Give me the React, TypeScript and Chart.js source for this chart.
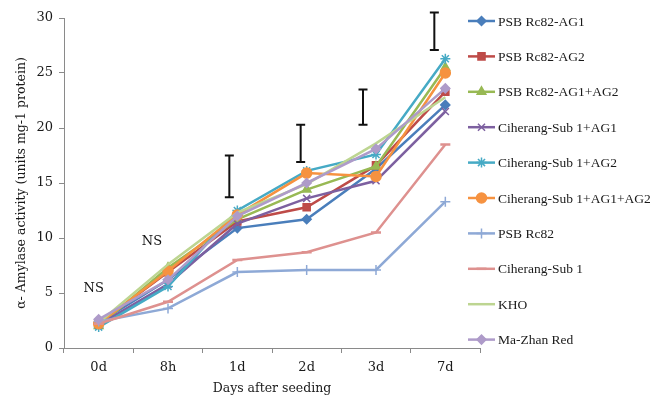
import React, { useEffect, useRef } from "react";
import { Chart, registerables } from "chart.js";
import { drawPoint } from "chart.js/helpers";

Chart.register(...registerables);

const categories = ["0d", "8h", "1d", "2d", "3d", "7d"];

const seriesNames = [
  "PSB Rc82-AG1",
  "PSB Rc82-AG2",
  "PSB Rc82-AG1+AG2",
  "Ciherang-Sub 1+AG1",
  "Ciherang-Sub 1+AG2",
  "Ciherang-Sub 1+AG1+AG2",
  "PSB Rc82",
  "Ciherang-Sub 1",
  "KHO",
  "Ma-Zhan Red",
];

const psbAg1 = [2.3, 6.2, 10.9, 11.7, 16.3, 22.1];
const psbAg2 = [2.2, 6.9, 11.5, 12.8, 16.6, 23.3];
const psbAg1Ag2 = [2.0, 7.3, 11.7, 14.4, 16.5, 25.5];
const cihAg1 = [2.1, 5.8, 11.3, 13.6, 15.2, 21.5];
const cihAg2 = [1.9, 5.6, 12.5, 16.1, 17.6, 26.3];
const cihAg1Ag2 = [2.2, 7.0, 12.1, 15.9, 15.6, 25.0];
const psbRc82 = [2.4, 3.6, 6.9, 7.1, 7.1, 13.3];
const ciherangSub1 = [2.2, 4.2, 8.0, 8.7, 10.5, 18.5];
const kho = [2.3, 7.6, 12.3, 14.9, 18.6, 22.8];
const maZhanRed = [2.6, 6.2, 12.0, 15.0, 18.1, 23.6];

const seriesValues = [psbAg1, psbAg2, psbAg1Ag2, cihAg1, cihAg2, cihAg1Ag2, psbRc82, ciherangSub1, kho, maZhanRed];

// LSD-style error bars
const errCategories = ["1d", "2d", "3d", "7d"];
const errLow = [13.7, 16.9, 20.3, 27.1];
const errHigh = [17.5, 20.3, 23.5, 30.5];

// NS annotations
const nsCategories = ["0d", "8h"];
const nsValues = [5.4, 9.7];
const nsText = "NS";

const yTicks = [0, 5, 10, 15, 20, 25, 30];

const colors = ["#4A7EBB", "#BE4B48", "#98B954", "#7D60A0", "#46AAC5", "#F69240", "#8EA9D6", "#DE918F", "#BDD591", "#AE9BC9"];
const pointStyles: any[] = ["rectRot", "rect", "triangle", "crossRot", "star", "circle", "cross", "line", false, "rectRot"];
const pointRadii = [4.5, 5, 5, 5, 5, 5, 5, 5, 0, 4.5];

const errOffsets = [-8, -6, -13, -11];
const nsOffsets = [-5, -16];

const annotationPlugin = {
  id: "annot",
  afterDatasetsDraw(chart: any) {
    const { ctx, scales } = chart;
    const x = scales.x;
    const y = scales.y;
    ctx.save();
    ctx.strokeStyle = "#111";
    ctx.lineWidth = 2;
    errCategories.forEach((c, i) => {
      const px = x.getPixelForValue(categories.indexOf(c)) + errOffsets[i];
      const y1 = y.getPixelForValue(errLow[i]);
      const y2 = y.getPixelForValue(errHigh[i]);
      ctx.beginPath();
      ctx.moveTo(px, y1);
      ctx.lineTo(px, y2);
      ctx.moveTo(px - 4.5, y1);
      ctx.lineTo(px + 4.5, y1);
      ctx.moveTo(px - 4.5, y2);
      ctx.lineTo(px + 4.5, y2);
      ctx.stroke();
    });
    ctx.fillStyle = "#111";
    ctx.font = "13px 'DejaVu Serif'";
    ctx.textAlign = "center";
    ctx.textBaseline = "middle";
    nsCategories.forEach((c, i) => {
      const px = x.getPixelForValue(categories.indexOf(c)) + nsOffsets[i];
      ctx.fillText(nsText, px, y.getPixelForValue(nsValues[i]));
    });
    ctx.restore();
  },
  afterDraw(chart: any) {
    const { ctx } = chart;
    ctx.save();
    const top = 21;
    const step = 35.4;
    chart.data.datasets.forEach((ds: any, i: number) => {
      const cy = top + i * step;
      ctx.strokeStyle = ds.borderColor;
      ctx.lineWidth = 2.5;
      ctx.beginPath();
      ctx.moveTo(468, cy);
      ctx.lineTo(495, cy);
      ctx.stroke();
      if (ds.pointStyle) {
        ctx.fillStyle = ds.pointBackgroundColor;
        ctx.strokeStyle = ds.pointBorderColor;
        ctx.lineWidth = ds.pointStyle === "line" ? 2.5 : 1.5;
        drawPoint(ctx, { pointStyle: ds.pointStyle, radius: ds.pointRadius, rotation: 0, borderWidth: ctx.lineWidth }, 481.5, cy);
      }
      ctx.fillStyle = "#1a1a1a";
      ctx.font = "13.5px 'Liberation Serif'";
      ctx.textAlign = "left";
      ctx.textBaseline = "middle";
      ctx.fillText(ds.label, 498, cy + 1);
    });
    ctx.restore();
  },
};

export default function App() {
  const ref = useRef<HTMLCanvasElement | null>(null);
  useEffect(() => {
    if (!ref.current) return;
    const n = seriesNames.length;
    const chart = new Chart(ref.current, {
      type: "line",
      data: {
        labels: categories,
        datasets: seriesNames.map((name, i) => ({
          label: name,
          data: seriesValues[i],
          borderColor: colors[i],
          backgroundColor: colors[i],
          pointBackgroundColor: colors[i],
          pointBorderColor: colors[i],
          pointStyle: pointStyles[i],
          pointRadius: pointRadii[i],
          pointBorderWidth: pointStyles[i] === "line" ? 2.5 : 1.5,
          borderWidth: 2.5,
          tension: 0,
          fill: false,
          order: n - i,
        })),
      },
      options: {
        animation: false,
        responsive: false,
        devicePixelRatio: 1,
        layout: { padding: { left: 0, top: 18, right: 170, bottom: 0 } },
        plugins: { legend: { display: false }, tooltip: { enabled: false } },
        scales: {
          x: {
            offset: true,
            grid: { offset: true, drawOnChartArea: false, drawTicks: true, tickLength: 5, color: "#8a8a8a" },
            border: { color: "#8a8a8a", width: 1 },
            ticks: { color: "#1a1a1a", font: { family: "DejaVu Serif", size: 13 }, padding: 7 },
            title: {
              display: true,
              text: "Days after seeding",
              color: "#1a1a1a",
              font: { family: "DejaVu Serif", size: 12.5 },
              padding: { top: 0, bottom: 2.5 },
            },
            afterFit: (s: any) => {
              s.height = 51;
            },
          },
          y: {
            min: 0,
            max: 30,
            afterBuildTicks: (s: any) => {
              s.ticks = yTicks.map((v) => ({ value: v }));
            },
            grid: { drawOnChartArea: false, drawTicks: true, tickLength: 5, color: "#8a8a8a" },
            border: { color: "#8a8a8a", width: 1 },
            ticks: { color: "#1a1a1a", font: { family: "DejaVu Serif", size: 13 }, padding: 6 },
            title: {
              display: true,
              text: "α- Amylase activity (units mg-1 protein)",
              color: "#1a1a1a",
              font: { family: "DejaVu Serif", size: 12.5 },
              padding: { top: 14, bottom: 0 },
            },
            afterFit: (s: any) => {
              s.width = 64;
            },
          },
        },
      },
      plugins: [annotationPlugin],
    });
    return () => chart.destroy();
  }, []);
  return (
    <div style={{ position: "fixed", left: 0, top: 0, width: 650, height: 399, background: "#fff" }}>
      <canvas ref={ref} width={650} height={399} style={{ width: 650, height: 399, display: "block" }} />
    </div>
  );
}
